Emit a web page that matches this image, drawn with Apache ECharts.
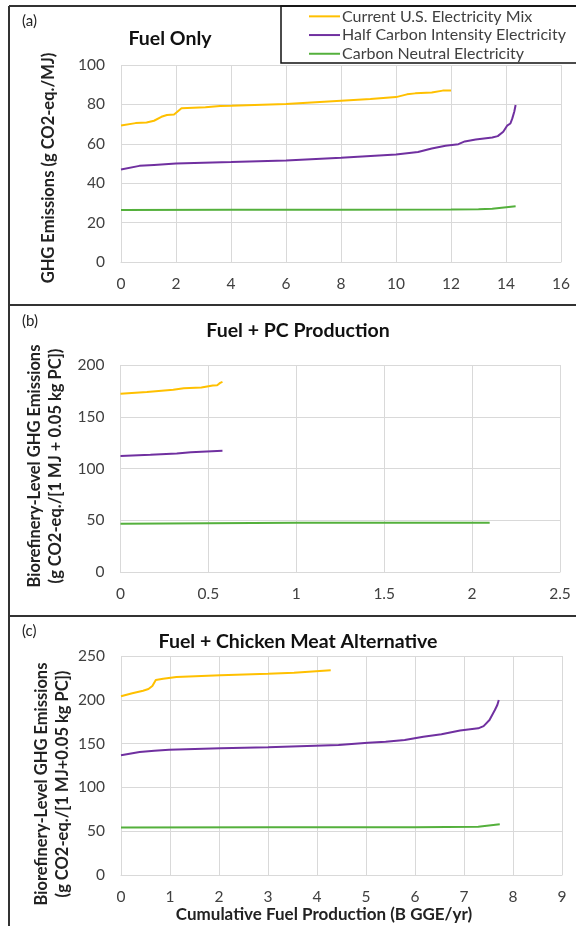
<!DOCTYPE html>
<html>
<head>
<meta charset="utf-8">
<script src="https://cdn.jsdelivr.net/npm/echarts@6/dist/echarts.min.js"></script>
<style>html,body{margin:0;padding:0;background:#fff;}#c{width:576px;height:926px;}</style>
</head>
<body>
<div id="c"></div>
<script>
// ---- series names ----
var seriesNames = ['Current U.S. Electricity Mix', 'Half Carbon Intensity Electricity', 'Carbon Neutral Electricity'];

// ---- Panel (a): Fuel Only ----
var aCurX = [0, 0.53, 0.93, 1.2, 1.47, 1.67, 1.93, 2.0, 2.2, 3.07, 3.6, 4, 6, 8, 9.07, 10, 10.4, 10.7, 11.3, 11.7, 12];
var aCurY = [69.3, 70.5, 70.8, 71.7, 73.7, 74.6, 74.9, 75.4, 78, 78.5, 79.2, 79.3, 80.2, 81.9, 82.7, 83.7, 85.1, 85.6, 86, 87, 87.1];
var aHalfX = [0, 0.67, 1.2, 2, 4, 6, 8, 10, 10.8, 11.3, 11.8, 12.27, 12.5, 12.9, 13.5, 13.7, 13.9, 14.04, 14.16, 14.23, 14.3, 14.35];
var aHalfY = [47, 48.8, 49.3, 50, 50.7, 51.5, 52.9, 54.6, 55.8, 57.6, 59, 59.8, 61.2, 62.2, 63.2, 63.9, 66.1, 69.2, 70.3, 72.9, 76.3, 79.7];
var aNeuX = [0, 4, 8, 12, 13, 13.5, 14.35];
var aNeuY = [26.4, 26.5, 26.5, 26.6, 26.8, 27, 28.3];

// ---- Panel (b): Fuel + PC Production ----
var bCurX = [0, 0.15, 0.3, 0.36, 0.46, 0.525, 0.55, 0.567, 0.58];
var bCurY = [172.2, 173.8, 176, 177.6, 178.2, 180.2, 180.5, 182.7, 183.7];
var bHalfX = [0, 0.17, 0.32, 0.4, 0.58];
var bHalfY = [112, 113.3, 114.6, 115.8, 117.1];
var bNeuX = [0, 1, 2.1];
var bNeuY = [46.7, 47.5, 47.7];

// ---- Panel (c): Fuel + Chicken Meat Alternative ----
var cCurX = [0, 0.23, 0.45, 0.56, 0.64, 0.68, 0.71, 0.86, 1.13, 2.03, 3, 3.53, 4.28];
var cCurY = [204, 207.4, 210.4, 212.3, 215.8, 216.9, 222.6, 224.1, 226, 227.9, 229.8, 231, 233.6];
var cHalfX = [0, 0.38, 0.68, 0.98, 2.03, 3, 4.44, 5.04, 5.4, 5.79, 6.17, 6.54, 6.92, 7.29, 7.4, 7.52, 7.63, 7.68, 7.71];
var cHalfY = [136.6, 140.4, 141.9, 143, 144.6, 145.7, 148.4, 151, 152.2, 154.1, 157.9, 160.6, 165, 167.4, 170, 176.9, 188.4, 194, 199.7];
var cNeuX = [0, 3, 6, 7.29, 7.73];
var cNeuY = [54.2, 54.4, 54.6, 55, 58];

// ---- axis ranges / ticks ----
var aXMax = 16, aXStep = 2, aYMax = 100, aYStep = 20;
var bXMax = 2.5, bXStep = 0.5, bYMax = 200, bYStep = 50;
var cXMax = 9, cXStep = 1, cYMax = 250, cYStep = 50;

// ---- text ----
var panelLabels = ['(a)', '(b)', '(c)'];
var panelTitles = ['Fuel Only', 'Fuel + PC Production', 'Fuel + Chicken Meat Alternative'];
var yNames = ['GHG Emissions (g CO2-eq./MJ)',
  'Biorefinery-Level GHG Emissions\n(g CO2-eq./[1 MJ + 0.05 kg PC])',
  'Biorefinery-Level GHG Emissions\n(g CO2-eq./[1 MJ+0.05 kg PC])'];
var xNameC = 'Cumulative Fuel Production (B GGE/yr)';

var colors = ['#FFC000', '#7030A0', '#54B03C'];
var FONT = 'Lato';
var TXT = '#404040';

function pairs(xs, ys) { return xs.map(function (x, i) { return [x, ys[i]]; }); }

function xAx(idx, max, step) {
  return {
    type: 'value', gridIndex: idx, min: 0, max: max, interval: step,
    axisLine: { show: true, lineStyle: { color: '#D9D9D9', width: 1 } },
    axisTick: { show: false },
    splitLine: { show: true, lineStyle: { color: '#D9D9D9', width: 1 } },
    axisLabel: { color: TXT, fontFamily: FONT, fontSize: 15.5, margin: 14 }
  };
}
function yAx(idx, max, step) {
  return {
    type: 'value', gridIndex: idx, min: 0, max: max, interval: step,
    axisLine: { show: false }, axisTick: { show: false },
    splitLine: { show: true, lineStyle: { color: '#D9D9D9', width: 1 } },
    axisLabel: { color: TXT, fontFamily: FONT, fontSize: 15.5, margin: 16 }
  };
}
function ser(name, xs, ys, gi, ci) {
  return {
    name: name, type: 'line', xAxisIndex: gi, yAxisIndex: gi,
    data: pairs(xs, ys), symbol: 'none', showSymbol: false, smooth: false,
    lineStyle: { color: colors[ci], width: 2 }, itemStyle: { color: colors[ci] },
    animation: false
  };
}
function vText(txt, x, y) {
  return { type: 'text', x: x, y: y, rotation: Math.PI / 2, silent: true,
    style: { text: txt, fill: '#222', font: 'bold 16.5px ' + FONT, lineHeight: 20.5,
      textAlign: 'center', textVerticalAlign: 'middle' } };
}

var chart = echarts.init(document.getElementById('c'), null, { renderer: 'canvas' });
var lineStyle = { stroke: '#333', lineWidth: 2 };
chart.setOption({
  animation: false,
  grid: [
    { left: 121, right: 15, top: 65, height: 197 },
    { left: 120.5, right: 16, top: 365, height: 207 },
    { left: 121, right: 14, top: 656, height: 219 }
  ],
  xAxis: [xAx(0, aXMax, aXStep), xAx(1, bXMax, bXStep), xAx(2, cXMax, cXStep)],
  yAxis: [yAx(0, aYMax, aYStep), yAx(1, bYMax, bYStep), yAx(2, cYMax, cYStep)],
  legend: {
    orient: 'vertical', left: 304, top: 2, itemWidth: 31, itemHeight: 2, itemGap: 0,
    icon: 'rect',
    data: seriesNames,
    textStyle: { color: TXT, fontFamily: FONT, fontSize: 16, lineHeight: 18.7, padding: [0, 0, 0, -3] }
  },
  series: [
    ser(seriesNames[0], aCurX, aCurY, 0, 0),
    ser(seriesNames[1], aHalfX, aHalfY, 0, 1),
    ser(seriesNames[2], aNeuX, aNeuY, 0, 2),
    ser(seriesNames[0], bCurX, bCurY, 1, 0),
    ser(seriesNames[1], bHalfX, bHalfY, 1, 1),
    ser(seriesNames[2], bNeuX, bNeuY, 1, 2),
    ser(seriesNames[0], cCurX, cCurY, 2, 0),
    ser(seriesNames[1], cHalfX, cHalfY, 2, 1),
    ser(seriesNames[2], cNeuX, cNeuY, 2, 2)
  ],
  graphic: [
    { type: 'line', shape: { x1: 9, y1: 6, x2: 9, y2: 926 }, style: lineStyle, silent: true },
    { type: 'line', shape: { x1: 9, y1: 6, x2: 576, y2: 6 }, style: lineStyle, silent: true },
    { type: 'line', shape: { x1: 9, y1: 305, x2: 576, y2: 305 }, style: lineStyle, silent: true },
    { type: 'line', shape: { x1: 9, y1: 616, x2: 576, y2: 616 }, style: lineStyle, silent: true },
    { type: 'rect', shape: { x: 281, y: 6, width: 300, height: 57 }, style: { fill: 'none', stroke: '#111', lineWidth: 1.5 }, silent: true },
    { type: 'text', left: 22, top: 14, style: { text: panelLabels[0], fill: '#222', font: '15px ' + FONT } },
    { type: 'text', left: 22, top: 314, style: { text: panelLabels[1], fill: '#222', font: '15px ' + FONT } },
    { type: 'text', left: 22, top: 624, style: { text: panelLabels[2], fill: '#222', font: '15px ' + FONT } },
    { type: 'text', x: 170, y: 39, style: { text: panelTitles[0], fill: '#111', font: 'bold 19.5px ' + FONT, textAlign: 'center', textVerticalAlign: 'middle' } },
    { type: 'text', x: 298, y: 331, style: { text: panelTitles[1], fill: '#111', font: 'bold 19.5px ' + FONT, textAlign: 'center', textVerticalAlign: 'middle' } },
    { type: 'text', x: 298, y: 642, style: { text: panelTitles[2], fill: '#111', font: 'bold 19.5px ' + FONT, textAlign: 'center', textVerticalAlign: 'middle' } },
    vText(yNames[0], 49, 168),
    vText(yNames[1], 45, 466),
    vText(yNames[2], 52, 784),
    { type: 'text', x: 324, y: 915, silent: true, style: { text: xNameC, fill: '#222', font: 'bold 17px ' + FONT, textAlign: 'center', textVerticalAlign: 'middle' } }
  ]
});
</script>
</body>
</html>
